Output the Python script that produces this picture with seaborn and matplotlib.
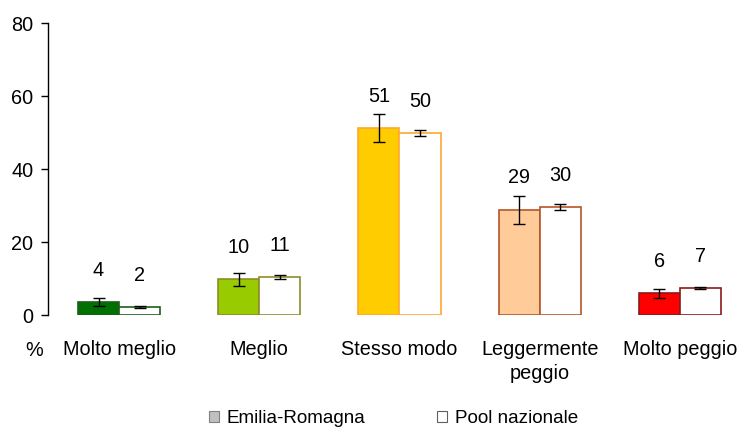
import matplotlib
matplotlib.use("Agg")
import matplotlib.pyplot as plt
from matplotlib.patches import Patch
import seaborn as sns
import pandas as pd

categories = ["Molto meglio", "Meglio", "Stesso modo", "Leggermente\npeggio", "Molto peggio"]
groups = ["Emilia-Romagna", "Pool nazionale"]
er_values = [3.5, 9.8, 51.3, 28.9, 5.9]
pool_values = [2.2, 10.4, 49.8, 29.5, 7.3]
er_low = [2.5, 8.0, 47.5, 25.0, 4.7]
er_high = [4.7, 11.5, 55.2, 32.5, 7.1]
pool_low = [1.9, 9.8, 49.0, 28.8, 7.0]
pool_high = [2.5, 11.0, 50.8, 30.3, 7.7]
er_labels = ["4", "10", "51", "29", "6"]
pool_labels = ["2", "11", "50", "30", "7"]

fill_colors = ["#007000", "#99CC00", "#FFCC00", "#FFCC99", "#FF0000"]
edge_colors = ["#1E5E1E", "#8C8C2A", "#FFA830", "#B5562A", "#8B1A1A"]

plt.rcParams["font.family"] = ["Liberation Sans", "DejaVu Sans"]
FS = 14.3

df = pd.DataFrame({
    "categoria": categories * 2,
    "gruppo": [groups[0]] * 5 + [groups[1]] * 5,
    "valore": er_values + pool_values,
})

fig = plt.figure(figsize=(7.41, 4.30), dpi=100)
ax = fig.add_axes([0.0648, 0.2674, 0.9352, 0.6791])

sns.barplot(data=df, x="categoria", y="valore", hue="gruppo", order=categories,
            hue_order=groups, width=0.586, gap=0, errorbar=None, legend=False, ax=ax)

lows = [er_low, pool_low]
highs = [er_high, pool_high]
vals = [er_values, pool_values]
labels = [er_labels, pool_labels]
bar_containers = list(ax.containers)
for k, cont in enumerate(bar_containers):
    for i, bar in enumerate(cont.patches):
        bar.set_edgecolor(edge_colors[i])
        bar.set_linewidth(1.2)
        bar.set_facecolor(fill_colors[i] if k == 0 else "white")
        xc = bar.get_x() + bar.get_width() / 2
        v = vals[k][i]
        ax.errorbar(xc, v, yerr=[[v - lows[k][i]], [highs[k][i] - v]], fmt="none",
                    ecolor="black", elinewidth=1, capsize=4, capthick=1)
        ax.annotate(labels[k][i], (xc, v), xytext=(0, 16), textcoords="offset points",
                    ha="center", va="bottom", fontsize=FS, annotation_clip=False)

ax.set_xlim(-0.507, 4.436)
ax.set_ylim(0, 80)
ax.set_yticks([0, 20, 40, 60, 80])
ax.set_xlabel("")
ax.set_ylabel("")
for s in ["top", "right", "bottom"]:
    ax.spines[s].set_visible(False)
ax.spines["left"].set_linewidth(1)
ax.tick_params(axis="y", length=5, width=1, labelsize=FS, pad=5.5)
ax.tick_params(axis="x", length=0, labelsize=FS, pad=18)
for t in ax.get_xticklabels():
    t.set_linespacing(1.3)
    t.set_va("top")

fig.text(0.046, 0.186, "%", fontsize=FS, ha="center", va="center")

handles = [Patch(facecolor="#C0C0C0", edgecolor="#808080", linewidth=0.8),
           Patch(facecolor="white", edgecolor="#606060", linewidth=0.8)]
fig.legend(handles, groups, loc="center", bbox_to_anchor=(0.531, 0.027), ncol=2,
           frameon=False, fontsize=13.6, handlelength=0.55, handleheight=0.55,
           handletextpad=0.4, columnspacing=3.8, borderpad=0)

fig.savefig("out.png", dpi=100)
